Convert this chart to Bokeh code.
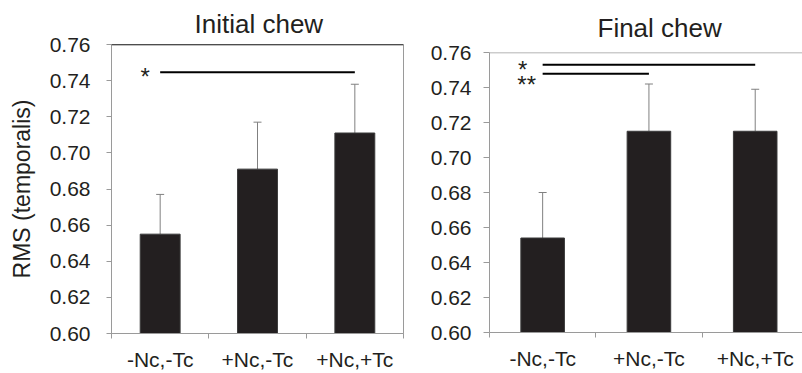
from bokeh.plotting import figure
from bokeh.models import (FixedTicker, NumeralTickFormatter, Range1d, Whisker, TeeHead,
                          ColumnDataSource, Span, Title)
from bokeh.core.properties import value
from bokeh.embed import file_html
from bokeh.resources import INLINE

categories = ["-Nc,-Tc", "+Nc,-Tc", "+Nc,+Tc"]
initial_mean = [0.655, 0.691, 0.711]
initial_upper = [0.677, 0.717, 0.738]
final_mean = [0.654, 0.715, 0.715]
final_upper = [0.680, 0.742, 0.739]
y_ticks = [0.60, 0.62, 0.64, 0.66, 0.68, 0.70, 0.72, 0.74, 0.76]
# significance brackets: (from category index, to category index, y level, star text)
initial_sig = [(0, 2, 0.7446, "*")]
final_sig = [(0, 2, 0.7530, "*"), (0, 1, 0.7479, "**")]

FONT = "Liberation Sans"
TXT = "#231f20"
AX = "#9a9a9a"
BAR = "#231f20"


def make_panel(title, title_offset, title_standoff, means, uppers, sigs, star_dx, star_dy,
               width, height, bl, br, bt, bb, xend, ylabel, label_standoff, tick_out):
    p = figure(width=width, height=height, output_backend="svg", toolbar_location=None,
               x_range=Range1d(0, xend), y_range=Range1d(0.60, 0.76),
               min_border_left=bl, min_border_right=br, min_border_top=bt, min_border_bottom=bb)
    p.title = Title(text=title, align="left", offset=title_offset, standoff=title_standoff,
                    text_font=FONT, text_font_size="26px", text_font_style="normal",
                    text_color=TXT)
    p.xgrid.visible = False
    p.ygrid.visible = False
    xs = [i + 0.5 for i in range(len(categories))]
    src = ColumnDataSource(dict(x=xs, top=means, upper=uppers))
    p.vbar(x="x", top="top", bottom=0.60, width=0.41, source=src,
           fill_color=BAR, line_color="#3a3a3a", line_width=1)
    p.add_layout(Whisker(source=src, base="x", upper="upper", lower="top",
                         line_color="#808080", line_width=1, lower_head=None,
                         upper_head=TeeHead(size=8, line_color="#808080", line_width=1)))
    for (a, b, y, s), dx, dy in zip(sigs, star_dx, star_dy):
        p.segment(x0=[xs[a]], x1=[xs[b]], y0=[y], y1=[y], line_color="black", line_width=2)
        p.text(x=[xs[a]], y=[y], text=[s], text_font=value(FONT),
               text_font_size="24px", text_align="center", text_baseline="middle",
               text_color=TXT, x_offset=dx, y_offset=dy)
    # axes
    p.yaxis.ticker = FixedTicker(ticks=y_ticks)
    p.yaxis.formatter = NumeralTickFormatter(format="0.00")
    p.yaxis.major_label_text_font = FONT
    p.yaxis.major_label_text_font_size = "21px"
    p.yaxis.major_label_text_color = TXT
    p.yaxis.major_tick_out = tick_out
    p.yaxis.major_tick_in = 0
    p.yaxis.minor_tick_line_color = None
    p.yaxis.axis_line_color = AX
    p.yaxis.major_tick_line_color = AX
    p.yaxis.major_label_standoff = label_standoff
    if ylabel:
        p.yaxis.axis_label = ylabel
        p.yaxis.axis_label_text_font = FONT
        p.yaxis.axis_label_text_font_size = "23px"
        p.yaxis.axis_label_text_font_style = "normal"
        p.yaxis.axis_label_text_color = TXT
        p.yaxis.axis_label_standoff = 12
    minor = [t for t in range(0, 4) if t <= xend]
    p.xaxis.ticker = FixedTicker(ticks=xs, minor_ticks=minor)
    p.xaxis.major_label_overrides = {x: c for x, c in zip(xs, categories)}
    p.xaxis.major_label_text_font = FONT
    p.xaxis.major_label_text_font_size = "21px"
    p.xaxis.major_label_text_color = TXT
    p.xaxis.major_tick_out = 0
    p.xaxis.major_tick_in = 0
    p.xaxis.minor_tick_out = 5
    p.xaxis.minor_tick_in = 0
    p.xaxis.minor_tick_line_color = AX
    p.xaxis.axis_line_color = AX
    p.xaxis.major_label_standoff = 9
    return p


left = make_panel("Initial chew", 83, 12, initial_mean, initial_upper, initial_sig,
                  [-15], [4],
                  405, 373, 111, 2, 44, 35, 3.0, "RMS (temporalis)", 16, 5)
left.outline_line_color = AX
left.add_layout(Span(location=0.76, dimension="width", line_color="black", line_width=1.5))

right = make_panel("Final chew", 108, 20, final_mean, final_upper, final_sig,
                   [-20, -16], [5, 11],
                   397, 373, 84, 0, 51, 41, 2.945, None, 12, 6)
right.outline_line_color = None
right.add_layout(Span(location=0.76, dimension="width", line_color=AX, line_width=1.5))

# two independent roots placed side by side (so their frames are not aligned to each other)
p = [left, right]
html = file_html(p, INLINE)
html = html.replace("</head>", "<style>body{margin:0;display:flex;flex-direction:row;align-items:flex-start;}</style></head>", 1)
open("out.html", "w").write(html)
